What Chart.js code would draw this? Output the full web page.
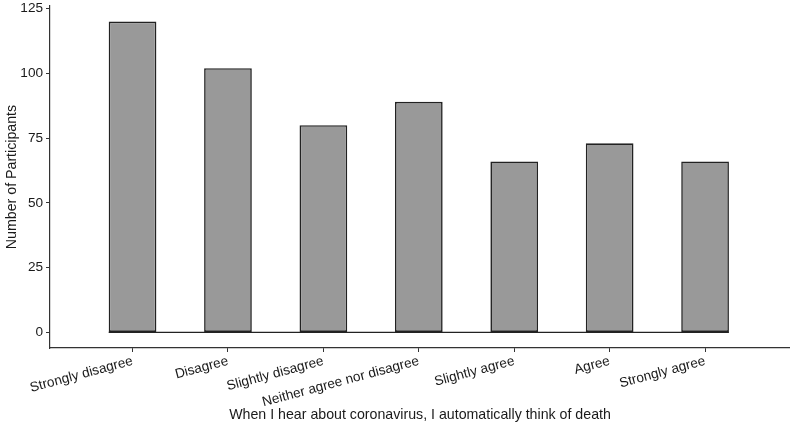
<!DOCTYPE html>
<html>
<head>
<meta charset="utf-8">
<script src="https://cdn.jsdelivr.net/npm/chart.js@4/dist/chart.umd.min.js"></script>
<style>
  html, body { margin: 0; padding: 0; background: #fff; }
  #wrap { width: 790px; height: 430px; }
</style>
</head>
<body>
<div id="wrap"><canvas id="chart"></canvas></div>
<script>
// Data
const categories = ['Strongly disagree', 'Disagree', 'Slightly disagree', 'Neither agree nor disagree',
                    'Slightly agree', 'Agree', 'Strongly agree'];
const participants = [120, 102, 80, 89, 66, 73, 66];
const yTicks = [0, 25, 50, 75, 100, 125];

const textColor = '#1a1a1a';
const axisColor = '#333333';
const tickFont = { family: '"Liberation Sans", Arial, sans-serif', size: 13.6 };
const titleFont = { family: '"Liberation Sans", Arial, sans-serif', size: 14.2 };

// Line along zero, from the first bar's left edge to the last bar's right edge
const zeroLine = {
    id: 'zeroLine',
    afterDatasetsDraw(chart) {
        const meta = chart.getDatasetMeta(0);
        const first = meta.data[0];
        const last = meta.data[meta.data.length - 1];
        const y = chart.scales.y.getPixelForValue(0);
        const ctx = chart.ctx;
        ctx.save();
        ctx.strokeStyle = '#222222';
        ctx.lineWidth = 1.3;
        ctx.beginPath();
        ctx.moveTo(first.x - first.width / 2, y);
        ctx.lineTo(last.x + last.width / 2, y);
        ctx.stroke();
        ctx.restore();
    }
};

new Chart(document.getElementById('chart'), {
    type: 'bar',
    data: {
        datasets: [{
            data: participants.map((v, i) => ({ x: i, y: v })),
            backgroundColor: '#999999',
            borderColor: '#222222',
            borderWidth: 1.6,
            borderSkipped: false,
            barPercentage: 0.5,
            categoryPercentage: 1
        }]
    },
    options: {
        responsive: true,
        maintainAspectRatio: false,
        animation: false,
        layout: { padding: { top: 6, right: 0, left: 0, bottom: 0 } },
        plugins: { legend: { display: false }, tooltip: { enabled: false } },
        scales: {
            x: {
                type: 'linear',
                offset: false,
                min: -0.865,
                max: 6.89,
                afterBuildTicks: scale => { scale.ticks = categories.map((c, i) => ({ value: i })); },
                afterFit: scale => { scale.height = 82; scale.paddingLeft = 0; scale.paddingRight = 0; },
                grid: { display: true, offset: false, drawOnChartArea: false, drawTicks: true, tickLength: 4, color: axisColor },
                border: { display: true, color: axisColor, width: 1.2 },
                ticks: {
                    autoSkip: false,
                    minRotation: 15,
                    maxRotation: 15,
                    padding: 1,
                    color: textColor,
                    font: tickFont,
                    callback: v => categories[v]
                },
                title: {
                    display: true,
                    text: 'When I hear about coronavirus, I automatically think of death',
                    color: textColor,
                    font: titleFont,
                    padding: { top: 0, bottom: 6 }
                }
            },
            y: {
                min: -6,
                max: 126,
                afterBuildTicks: scale => { scale.ticks = yTicks.map(v => ({ value: v })); },
                afterFit: scale => { scale.width = 50; scale.paddingTop = 0; scale.paddingBottom = 0; },
                grid: { display: true, drawOnChartArea: false, drawTicks: true, tickLength: 4, color: axisColor },
                border: { display: true, color: axisColor, width: 1.2 },
                ticks: { padding: 3, color: textColor, font: tickFont },
                title: {
                    display: true,
                    text: 'Number of Participants',
                    color: textColor,
                    font: titleFont,
                    padding: { top: 4, bottom: 0 }
                }
            }
        }
    },
    plugins: [zeroLine]
});
</script>
</body>
</html>
